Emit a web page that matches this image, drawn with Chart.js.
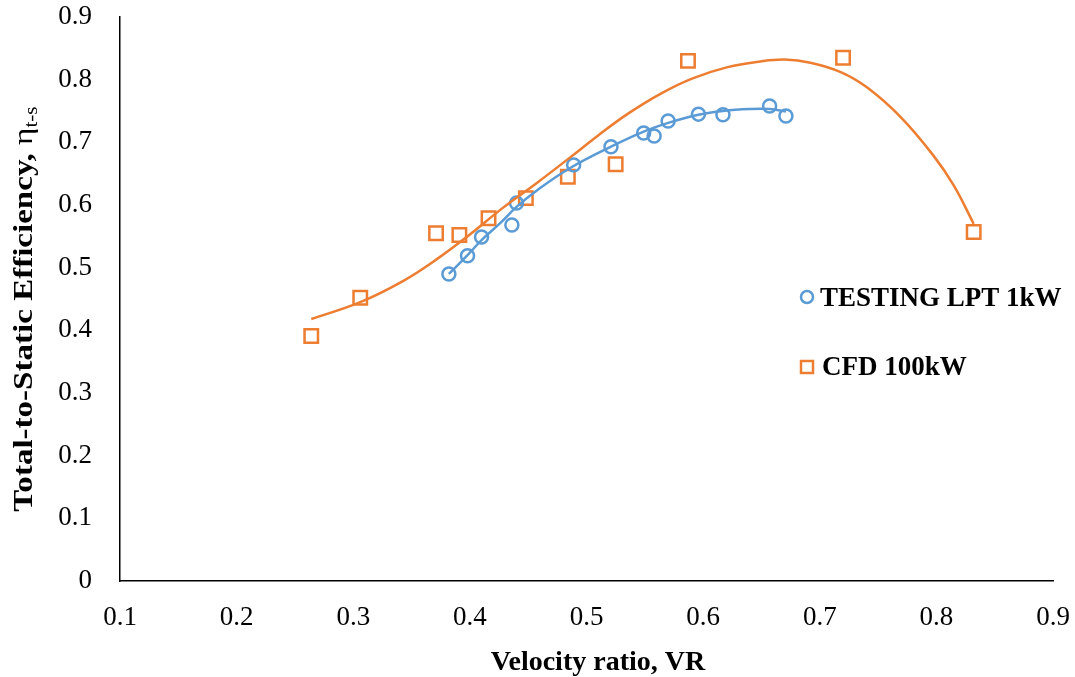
<!DOCTYPE html>
<html>
<head>
<meta charset="utf-8">
<title>Efficiency vs Velocity ratio</title>
<script src="https://cdn.jsdelivr.net/npm/chart.js@4.4.1/dist/chart.umd.min.js"></script>
<style>
    body { margin: 0; background: #fff; }
    #wrap { width: 1075px; height: 677px; position: relative; }
</style>
</head>
<body>
<div id="wrap"><canvas id="effChart"></canvas></div>
<script>
// Measured points - testing LPT 1kW
const testVR  = [0.382, 0.398, 0.410, 0.436, 0.440, 0.489, 0.521, 0.549, 0.558, 0.570, 0.596, 0.617, 0.657, 0.671];
const testEff = [0.490, 0.519, 0.549, 0.568, 0.603, 0.664, 0.693, 0.715, 0.710, 0.734, 0.745, 0.744, 0.758, 0.742];

// CFD 100kW points
const cfdVR  = [0.264, 0.306, 0.371, 0.391, 0.416, 0.448, 0.484, 0.525, 0.587, 0.720, 0.832];
const cfdEff = [0.391, 0.452, 0.555, 0.552, 0.579, 0.611, 0.645, 0.665, 0.830, 0.835, 0.557];

// Trend curves
const testFitVR  = [0.382, 0.398, 0.410, 0.426, 0.440, 0.458, 0.486, 0.521, 0.549, 0.570, 0.596, 0.617, 0.640, 0.657, 0.671];
const testFitEff = [0.490, 0.520, 0.544, 0.571, 0.597, 0.624, 0.659, 0.693, 0.717, 0.731, 0.744, 0.750, 0.753, 0.753, 0.749];
const cfdFitVR  = [0.264, 0.306, 0.343, 0.372, 0.400, 0.428, 0.458, 0.486, 0.510, 0.535, 0.563, 0.591, 0.621, 0.649, 0.670, 0.692, 0.718, 0.741, 0.769, 0.797, 0.815, 0.832];
const cfdFitEff = [0.418, 0.445, 0.479, 0.514, 0.553, 0.595, 0.636, 0.676, 0.711, 0.745, 0.777, 0.802, 0.820, 0.829, 0.832, 0.827, 0.812, 0.787, 0.741, 0.680, 0.631, 0.570];

// Axis ticks
const xTicks = [0.1, 0.2, 0.3, 0.4, 0.5, 0.6, 0.7, 0.8, 0.9];
const yTicks = [0, 0.1, 0.2, 0.3, 0.4, 0.5, 0.6, 0.7, 0.8, 0.9];

const BLUE = '#5B9BD5';
const ORANGE = '#ED7D31';
const SERIF = '"Liberation Serif", "Times New Roman", serif';

function toXY(xs, ys) {
    return xs.map((x, i) => ({ x: x, y: ys[i] }));
}

document.addEventListener('DOMContentLoaded', function() {
    // Titles and legend are drawn by hand (subscript + legend inside the plot)
    const extras = {
        id: 'extras',
        afterDraw(chart) {
            const ctx = chart.ctx;
            ctx.save();

            // x title
            ctx.fillStyle = '#000';
            ctx.font = 'bold 28px ' + SERIF;
            ctx.textAlign = 'center';
            ctx.textBaseline = 'alphabetic';
            ctx.fillText('Velocity ratio, VR', 598, 670);

            // y title, rotated, with subscript
            ctx.save();
            ctx.translate(32, 309);
            ctx.rotate(-Math.PI / 2);
            ctx.scale(1.18, 1);
            const mainTxt = 'Total-to-Static Efficiency, ';
            ctx.font = 'bold 28px ' + SERIF;
            const w1 = ctx.measureText(mainTxt).width;
            ctx.font = '28px ' + SERIF;
            const w2 = ctx.measureText('\u03b7').width;
            ctx.font = '18px ' + SERIF;
            const w3 = ctx.measureText('t-s').width;
            let x = -(w1 + w2 + w3) / 2;
            ctx.textAlign = 'left';
            ctx.font = 'bold 28px ' + SERIF;
            ctx.fillText(mainTxt, x, 0);
            x += w1;
            ctx.font = '28px ' + SERIF;
            ctx.fillText('\u03b7', x, 0);
            x += w2;
            ctx.font = '18px ' + SERIF;
            ctx.fillText('t-s', x, 5);
            ctx.restore();

            // legend
            ctx.lineWidth = 2.5;
            ctx.strokeStyle = BLUE;
            ctx.beginPath();
            ctx.arc(807, 297, 6, 0, Math.PI * 2);
            ctx.stroke();
            ctx.strokeStyle = ORANGE;
            ctx.strokeRect(801, 361, 12, 12);

            ctx.fillStyle = '#000';
            ctx.font = 'bold 27px ' + SERIF;
            ctx.textAlign = 'left';
            ctx.fillText('TESTING LPT 1kW', 820, 306);
            ctx.fillText('CFD 100kW', 822, 375);
            ctx.restore();
        }
    };

    const canvas = document.getElementById('effChart');
    new Chart(canvas, {
        type: 'scatter',
        data: {
            datasets: [
                {
                    label: 'TESTING LPT 1kW',
                    data: toXY(testVR, testEff),
                    pointStyle: 'circle',
                    pointRadius: 6.5,
                    borderColor: BLUE,
                    backgroundColor: 'rgba(0,0,0,0)',
                    pointBorderWidth: 2.5,
                    order: 2
                },
                {
                    label: 'CFD 100kW',
                    data: toXY(cfdVR, cfdEff),
                    pointStyle: 'rect',
                    pointRadius: 9.5,
                    borderColor: ORANGE,
                    backgroundColor: 'rgba(0,0,0,0)',
                    pointBorderWidth: 2.5,
                    order: 3
                },
                {
                    label: 'test fit',
                    data: toXY(testFitVR, testFitEff),
                    showLine: true,
                    pointRadius: 0,
                    borderColor: BLUE,
                    borderWidth: 2.5,
                    tension: 0.4,
                    order: 1
                },
                {
                    label: 'cfd fit',
                    data: toXY(cfdFitVR, cfdFitEff),
                    showLine: true,
                    pointRadius: 0,
                    borderColor: ORANGE,
                    borderWidth: 2.5,
                    tension: 0.4,
                    order: 1
                }
            ]
        },
        options: {
            responsive: true,
            maintainAspectRatio: false,
            animation: false,
            layout: {
                padding: { top: 17, right: 22, left: 0, bottom: 0 }
            },
            plugins: {
                legend: { display: false },
                tooltip: { enabled: false }
            },
            scales: {
                x: {
                    type: 'linear',
                    min: 0.1,
                    max: 0.9,
                    afterBuildTicks: s => { s.ticks = xTicks.map(v => ({ value: v })); },
                    afterFit: s => {
                        s.height = 96;
                        s.paddingLeft = 0;
                        s.paddingRight = 0;
                    },
                    grid: { display: false, drawTicks: false },
                    border: { display: true, color: '#000', width: 1.5 },
                    ticks: {
                        padding: 21,
                        color: '#000',
                        font: { family: SERIF, size: 27 },
                        callback: v => String(+v.toFixed(1))
                    }
                },
                y: {
                    type: 'linear',
                    min: 0,
                    max: 0.9,
                    afterBuildTicks: s => { s.ticks = yTicks.map(v => ({ value: v })); },
                    afterFit: s => {
                        s.width = 120;
                        s.paddingTop = 0;
                        s.paddingBottom = 0;
                    },
                    grid: { display: false, drawTicks: false },
                    border: { display: true, color: '#000', width: 1.5 },
                    ticks: {
                        padding: 28,
                        color: '#000',
                        font: { family: SERIF, size: 27 },
                        callback: v => String(+v.toFixed(1))
                    }
                }
            }
        },
        plugins: [extras]
    });
});
</script>
</body>
</html>
